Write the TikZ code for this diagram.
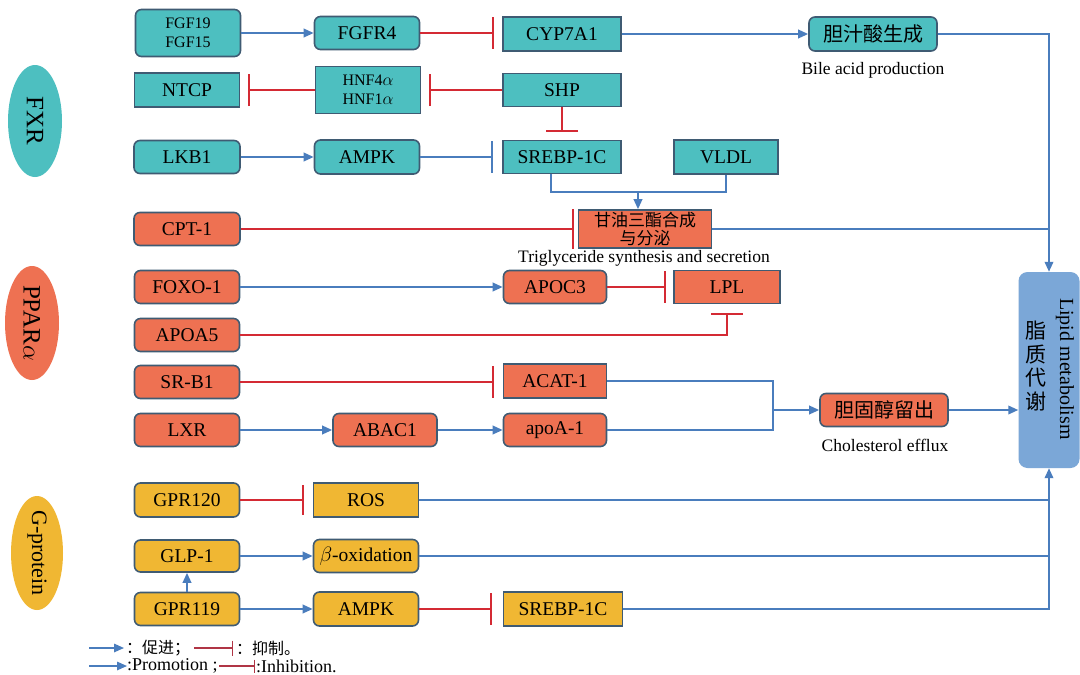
\documentclass[tikz,border=0pt]{standalone}
\usepackage{fontspec}
\setmainfont{Liberation Serif}
\newfontfamily\tnr{Liberation Serif}
\newfontfamily\cjk{Noto Sans CJK SC}
\usetikzlibrary{arrows.meta,shapes.geometric,calc}
\pgfdeclarelayer{bg}
\pgfsetlayers{bg,main}
\definecolor{teal1}{HTML}{4DBFC0}
\definecolor{orange1}{HTML}{EE7152}
\definecolor{yellow1}{HTML}{F0B733}
\definecolor{lipid}{HTML}{7BA7D7}
\definecolor{bord}{HTML}{3F5B73}
\definecolor{blueln}{HTML}{4A7DBD}
\definecolor{redln}{HTML}{D42A34}
\definecolor{legred}{HTML}{B03545}
\newcommand\fzbox{\tnr\fontsize{19.5pt}{22pt}\selectfont}
\newcommand\fzsmall{\tnr\fontsize{16pt}{19pt}\selectfont}
\newcommand\fzell{\tnr\fontsize{25pt}{28pt}\selectfont}
\newcommand\fzellS{\tnr\fontsize{22pt}{26pt}\selectfont}
\newcommand\fzlab{\tnr\fontsize{17.5pt}{20pt}\selectfont}
\newcommand\fzcn{\cjk\fontsize{20pt}{22pt}\selectfont}
\newcommand\fzcnS{\cjk\fontsize{17pt}{18pt}\selectfont}
\newcommand\fzcnL{\cjk\fontsize{21pt}{23.5pt}\selectfont}
\newcommand\fzlip{\tnr\fontsize{20pt}{22pt}\selectfont}
\newcommand\fzleg{\tnr\fontsize{18pt}{20pt}\selectfont}
\newcommand\fzlegc{\cjk\fontsize{16pt}{20pt}\selectfont}
\begin{document}
\begin{tikzpicture}[x=1pt,y=-1pt,
  nbox/.style={draw=bord,line width=1.6pt,inner sep=0pt,font=\fzbox,text=black,align=center,minimum width=105pt,minimum height=33pt},
  tb/.style={nbox,fill=teal1},
  ob/.style={nbox,fill=orange1},
  yb/.style={nbox,fill=yellow1},
  rc/.style={rounded corners=6pt},
  wh/.style 2 args={minimum width=#1pt,minimum height=#2pt},
  ell/.style={ellipse,draw=none,inner sep=0pt},
  lab/.style={font=\fzlab,inner sep=0pt},
  ln/.style={draw=blueln,line width=2pt},
  arr/.style={ln,-{Triangle[length=10pt,width=8.5pt]}},
  inh/.style={draw=redln,line width=2pt,-{Bar[width=32pt,line width=2pt]},shorten >=8pt},
  binh/.style={inh,draw=blueln},
  legin/.style={draw=legred,line width=1.5pt,-{Bar[width=#1,line width=1.5pt]}},
]
\fill[white] (0,0) rectangle (1080,675);
\useasboundingbox (0,0) rectangle (1080,675);

% ---------- FXR ----------
\node[ell,fill=teal1,minimum width=54pt,minimum height=112pt] (FXR) at (35,121) {};
\node[rotate=-90,font=\fzell,inner sep=0pt] (FXRt) at (FXR.center) {FXR};
\node[tb,rc,wh={105}{47},font=\fzsmall] (FGF) at (188,33) {FGF19\\FGF15};
\node[tb,rc,wh={105}{33}] (FGFR4) at (367,33) {FGFR4};
\node[tb,wh={118}{34}] (CYP) at (562,34) {CYP7A1};
\node[tb,rc,wh={128}{34},font=\fzcn] (bile) at (873,34) {胆汁酸生成};
\node[lab] (bilet) at (873,70) {Bile acid production};
\node[tb,wh={105}{34}] (NTCP) at (187,90) {NTCP};
\node[tb,wh={105}{47},font=\fzsmall] (HNF) at (368,90) {HNF4$\alpha$\\HNF1$\alpha$};
\node[tb,wh={118}{33}] (SHP) at (562,90) {SHP};
\node[tb,rc,wh={106}{33}] (LKB1) at (187,157) {LKB1};
\node[tb,rc,wh={105}{34}] (AMPK) at (367,157) {AMPK};
\node[tb,wh={118}{33}] (SREBP) at (562,157) {SREBP-1C};
\node[tb,wh={104}{34}] (VLDL) at (726,157) {VLDL};

% ---------- PPAR ----------
\node[ell,fill=orange1,minimum width=54pt,minimum height=114pt] (PPAR) at (32,323) {};
\node[rotate=-90,font=\fzell,inner sep=0pt] (PPARt) at (PPAR.center) {PPAR$\alpha$};
\node[ob,rc,wh={106}{33}] (CPT) at (187,229) {CPT-1};
\node[ob,wh={133}{38},font=\fzcnS] (tg) at (645,229) {甘油三酯合成\\与分泌};
\node[lab] (tgt) at (644,258) {Triglyceride synthesis and secretion};
\node[ob,rc] (FOXO) at (187,287) {FOXO-1};
\node[ob,rc,wh={103}{33}] (APOC3) at (555,287) {APOC3};
\node[ob,wh={106}{33}] (LPL) at (727,287) {LPL};
\node[ob,rc] (APOA5) at (187,335) {APOA5};
\node[ob,rc] (SRB1) at (187,382) {SR-B1};
\node[ob,wh={103}{34}] (ACAT) at (555,381) {ACAT-1};
\node[ob,rc] (LXR) at (187,430) {LXR};
\node[ob,rc,wh={104}{33}] (ABAC) at (385,430) {ABAC1};
\node[ob,rc,wh={103}{33}] (apoA) at (555,430) {apoA-1};
\node[ob,rc,wh={128}{33},font=\fzcn] (chol) at (884,410) {胆固醇留出};
\node[lab] (cholt) at (885,445) {Cholesterol efflux};

% ---------- Lipid ----------
\node[fill=lipid,draw=none,rounded corners=9pt,wh={61}{196},inner sep=0pt] (Lipid) at (1049,370) {};
\node[rotate=-90,font=\fzlip,inner sep=0pt] (lipt) at (1065,369) {Lipid metabolism};
\node[font=\fzcnL,align=center,inner sep=0pt] (lipc) at (1036,366) {脂\\质\\代\\谢};

% ---------- G-protein ----------
\node[ell,fill=yellow1,minimum width=52pt,minimum height=114pt] (G) at (37,553) {};
\node[rotate=-90,font=\fzellS,inner sep=0pt] (Gt) at (G.center) {G-protein};
\node[yb,rc,wh={105}{34}] (GPR120) at (187,500) {GPR120};
\node[yb,wh={105}{34}] (ROS) at (366,500) {ROS};
\node[yb,rc,wh={105}{32}] (GLP) at (187,556) {GLP-1};
\node[yb,rc,wh={105}{33}] (boxb) at (366,556) {$\beta$-oxidation};
\node[yb,rc] (GPR119) at (187,609) {GPR119};
\node[yb,rc,wh={105}{34}] (AMPK2) at (366,609) {AMPK};
\node[yb,wh={119}{34}] (SREBP2) at (563,609) {SREBP-1C};

% ---------- connectors from ellipses (behind) ----------
\begin{pgfonlayer}{bg}
\draw[arr] (FXR.north) |- (FGF.west);
\draw[arr] (FXR.center |- LKB1.west) -- (LKB1.west);
\draw[arr] (PPAR.north) |- (CPT.west);
\draw[arr] (PPAR.center |- FOXO.west) -- (FOXO.west);
\draw[arr] (PPAR.center |- APOA5.west) -- (APOA5.west);
\draw[arr] (PPAR.center |- SRB1.west) -- (SRB1.west);
\draw[arr] (PPAR.south) |- (LXR.west);
\draw[arr] (G.center |- GPR120.west) -- (GPR120.west);
\draw[arr] (G.center |- GLP.west) -- (GLP.west);
\draw[arr] (G.center |- GPR119.west) -- (GPR119.west);
\end{pgfonlayer}

% ---------- FXR branch ----------
\draw[arr] (FGF.east |- FGFR4.west) -- (FGFR4.west);
\draw[inh] (FGFR4.east) -- (FGFR4.east -| CYP.west);
\draw[arr] (CYP.east) -- (bile.west);
\draw[arr] (bile.east) -| (Lipid.north);
\draw[inh] (SHP.west) -- (HNF.east);
\draw[inh] (HNF.west) -- (NTCP.east);
\draw[inh] (SHP.south) -- (SREBP.north);
\draw[arr] (LKB1.east) -- (AMPK.west);
\draw[binh,shorten >=9pt] (AMPK.east) -- (SREBP.west);
\coordinate (j1) at (551,192);
\draw[ln] (SREBP.south -| j1) -- (j1) -- (j1 -| VLDL.south) -- (VLDL.south);
\draw[arr] (j1 -| 638,0) -- (tg.north -| 638,0);

% ---------- PPAR branch ----------
\draw[inh,shorten >=4pt,-{Bar[width=40pt,line width=2pt]}] (CPT.east) -- (tg.west);
\draw[ln] (tg.east) -- (tg.east -| Lipid.north);
\draw[arr] (FOXO.east) -- (APOC3.west);
\draw[inh,shorten >=7pt] (APOC3.east) -- (LPL.west);
\draw[inh,shorten >=9pt] (APOA5.east) -| (LPL.south);
\draw[inh,shorten >=9pt] (SRB1.east) -- (SRB1.east -| ACAT.west);
\draw[arr] (LXR.east) -- (ABAC.west);
\draw[arr] (ABAC.east) -- (apoA.west);
\coordinate (bk) at (773,410);
\draw[ln] (ACAT.east) -| (bk);
\draw[ln] (apoA.east) -| (bk);
\draw[arr] (bk) -- (chol.west);
\draw[arr] (chol.east) -- (chol.east -| Lipid.west);

% ---------- G-protein branch ----------
\draw[inh,shorten >=9pt,-{Bar[width=30pt,line width=2pt]}] (GPR120.east) -- (ROS.west);
\draw[arr] (GLP.east) -- (boxb.west);
\draw[arr] (GPR119.north) -- (GLP.south);
\draw[arr] (GPR119.east) -- (AMPK2.west);
\draw[inh,shorten >=11pt] (AMPK2.east) -- (SREBP2.west);
\draw[ln] (ROS.east) -- (ROS.east -| Lipid.south);
\draw[ln] (boxb.east) -- (boxb.east -| Lipid.south);
\draw[arr] (SREBP2.east) -| (Lipid.south);

% ---------- legend ----------
\coordinate (L1a) at (89,648);
\coordinate (L1b) at (124,648);
\draw[arr,line width=1.6pt] (L1a) -- (L1b);
\node[anchor=west,font=\fzlegc,inner sep=0pt] (L1t) at (126,648) {：促进；};
\coordinate (L1c) at (194,648);
\coordinate (L1d) at (233,648);
\draw[legin=15pt] (L1c) -- (L1d);
\node[anchor=west,font=\fzlegc,inner sep=0pt] (L1u) at (236,648) {：抑制。};
\coordinate (L2a) at (89,666);
\coordinate (L2b) at (127,666);
\draw[arr,line width=1.6pt] (L2a) -- (L2b);
\node[anchor=west,font=\fzleg,inner sep=0pt] (L2t) at (127,666) {:Promotion ;};
\coordinate (L2c) at (219,666);
\coordinate (L2d) at (255,666);
\draw[legin=13pt] (L2c) -- (L2d);
\node[anchor=west,font=\fzleg,inner sep=0pt] (L2u) at (256,666) {:Inhibition.};
\end{tikzpicture}
\end{document}
